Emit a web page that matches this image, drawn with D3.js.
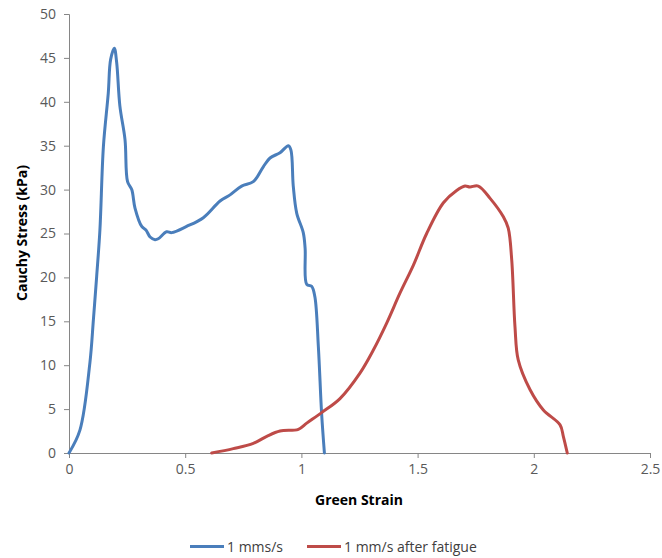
<!DOCTYPE html>
<html>
<head>
<script src="https://d3js.org/d3.v7.min.js"></script>
<style>
	body { margin: 0; background: #fff; }
	text { font-family: "Open Sans", "Liberation Sans", sans-serif; }
</style>
</head>
<body>
<svg width="662" height="558" id="chart"></svg>
<script>
	// strain / stress pairs
	var blueStrain = [0, 0.047, 0.09, 0.105, 0.119, 0.133, 0.148, 0.169, 0.179, 0.195, 0.205, 0.219, 0.241, 0.252, 0.27, 0.284, 0.313, 0.331, 0.349, 0.37, 0.384, 0.42, 0.442, 0.506, 0.578, 0.65, 0.693, 0.743, 0.793, 0.836, 0.865, 0.908, 0.944, 0.955, 0.965, 0.98, 1.008, 1.016, 1.023, 1.044, 1.058, 1.073, 1.087, 1.099]
	var blueStress = [0, 2.6, 10.3, 15.2, 20.1, 25.4, 34.9, 41, 44.8, 46.1, 44.5, 39.5, 35.7, 30.9, 30, 27.9, 25.8, 25.4, 24.6, 24.3, 24.4, 25.2, 25.1, 25.8, 26.8, 28.7, 29.4, 30.4, 30.9, 32.6, 33.6, 34.2, 35.0, 34.5, 30.4, 27.3, 25.1, 23.3, 19.2, 19.0, 17.8, 12.1, 4.5, 0]
	var redStrain = [0.614, 0.707, 0.793, 0.851, 0.908, 0.987, 1.023, 1.087, 1.166, 1.252, 1.309, 1.367, 1.424, 1.482, 1.539, 1.611, 1.668, 1.704, 1.725, 1.761, 1.812, 1.869, 1.89, 1.905, 1.919, 1.933, 1.984, 2.041, 2.113, 2.127, 2.144]
	var redStress = [0, 0.5, 1.1, 1.9, 2.5, 2.7, 3.4, 4.6, 6.2, 9.1, 11.7, 14.8, 18.2, 21.4, 25.0, 28.5, 29.9, 30.4, 30.3, 30.4, 29.0, 26.9, 25.6, 22.0, 14.4, 10.6, 7.2, 4.9, 3.2, 1.9, 0]
	var xTicks = [0, 0.5, 1, 1.5, 2, 2.5]
	var yTicks = [0, 5, 10, 15, 20, 25, 30, 35, 40, 45, 50]
	var seriesNames = ["1 mms/s", "1 mm/s after fatigue"]
	var seriesColors = ["#4a7ebb", "#be4b48"]

	var svg = d3.select("#chart")
	var x = d3.scaleLinear().domain([0, 2.5]).range([69, 650])
	var y = d3.scaleLinear().domain([0, 50]).range([453, 14])
	var axisColor = "#868686"

	var xAxis = svg.append("g")
		.attr("transform", "translate(0," + y(0) + ")")
		.call(d3.axisBottom(x).tickValues(xTicks).tickSize(5).tickPadding(6)
			.tickFormat(function(d) { return d3.format("")(d) }))
	var yAxis = svg.append("g")
		.attr("transform", "translate(" + x(0) + ",0)")
		.call(d3.axisLeft(y).tickValues(yTicks).tickSize(5).tickPadding(8))

	;[xAxis, yAxis].forEach(function(a) {
		a.select(".domain").attr("stroke", axisColor)
		a.selectAll(".tick line").attr("stroke", axisColor)
		a.selectAll(".tick text").attr("fill", "#595959").style("font-size", "14px")
	})

	var lineFree = d3.line()
		.x(function(d) { return x(d[0]) })
		.y(function(d) { return y(d[1]) })
		.curve(d3.curveCatmullRom.alpha(0.5))

	var series = [d3.zip(blueStrain, blueStress), d3.zip(redStrain, redStress)]
	series.forEach(function(s, i) {
		svg.append("path")
			.datum(s)
			.attr("fill", "none")
			.attr("stroke", seriesColors[i])
			.attr("stroke-width", 3)
			.attr("stroke-linejoin", "round")
			.attr("stroke-linecap", "round")
			.attr("d", lineFree)
	})

	svg.append("text")
		.attr("x", 359).attr("y", 505)
		.attr("text-anchor", "middle")
		.style("font-size", "14px").style("font-weight", "bold").attr("fill", "#000")
		.text("Green Strain")
	svg.append("text")
		.attr("transform", "translate(27,233) rotate(-90)")
		.attr("text-anchor", "middle")
		.style("font-size", "14px").style("font-weight", "bold").attr("fill", "#000")
		.text("Cauchy Stress (kPa)")

	// legend
	var legX = [190, 307]
	seriesNames.forEach(function(n, i) {
		var lg = svg.append("g").attr("transform", "translate(" + legX[i] + ",546.5)")
		lg.append("line").attr("x1", 0).attr("x2", 34).attr("y1", 0).attr("y2", 0)
			.attr("stroke", seriesColors[i]).attr("stroke-width", 3)
		lg.append("text").attr("x", 37).attr("y", 5)
			.style("font-size", "14px").attr("fill", "#404040")
			.text(n)
	})
</script>
</body>
</html>
